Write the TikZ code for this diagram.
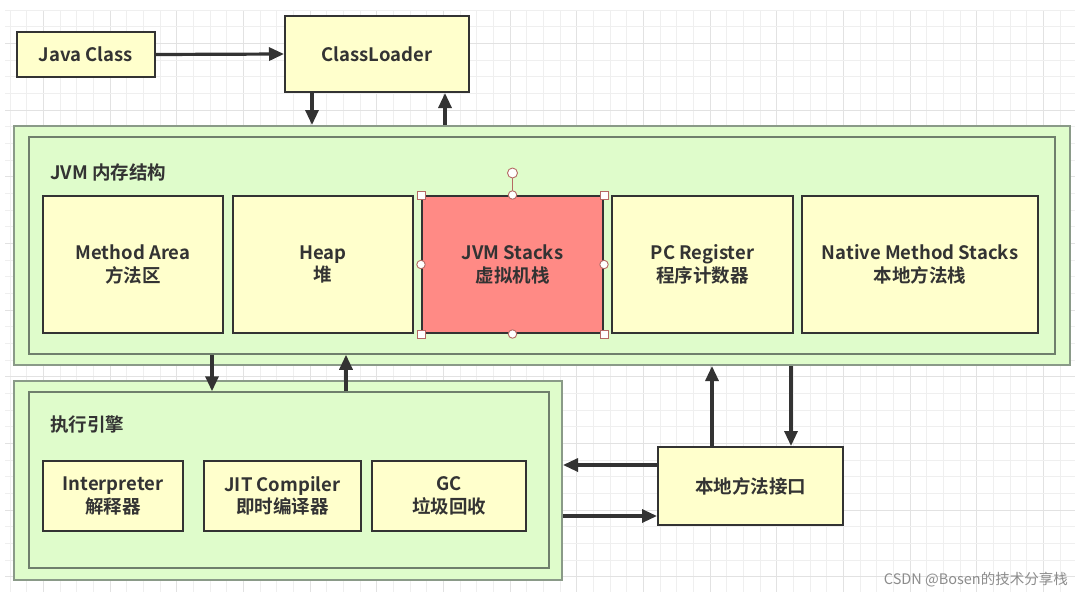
\documentclass[tikz,border=0pt]{standalone}
\usepackage{fontspec}
\setmainfont{Noto Sans CJK SC}[BoldFont={Noto Sans CJK SC Bold}]
\usetikzlibrary{arrows.meta}
\definecolor{boxyellow}{HTML}{FFFFCC}
\definecolor{boxline}{HTML}{333333}
\definecolor{greenfill}{HTML}{DFFCCB}
\definecolor{greenline}{HTML}{8A9A88}
\definecolor{greeninner}{HTML}{6F7F6C}
\definecolor{redfill}{HTML}{FF8A85}
\definecolor{handle}{HTML}{B56A64}
\definecolor{gridminor}{HTML}{EFEFEF}
\definecolor{gridmajor}{HTML}{E2E2E2}
\definecolor{txt}{HTML}{333333}
\tikzset{
  ybox/.style={draw=boxline, fill=boxyellow, line width=2pt, align=center, inner sep=0pt,
    text=txt, font=\bfseries\fontsize{18.5}{22.5}\selectfont},
  gbox/.style={draw=greenline, fill=greenfill, line width=2pt, inner sep=0pt},
  gin/.style={draw=greeninner, line width=1.5pt, inner sep=0pt},
  arr/.style={draw=boxline, line width=3.2pt, -{Triangle[length=15pt,width=13pt]}},
  lbl/.style={anchor=west, text=txt, inner sep=0pt, font=\bfseries\fontsize{18.5}{22}\selectfont},
  hsq/.style={draw=handle, fill=white, line width=0.9pt, minimum size=8pt, inner sep=0pt},
  hci/.style={draw=handle, fill=white, line width=0.9pt, circle, minimum size=8.5pt, inner sep=0pt},
}
\begin{document}
\begin{tikzpicture}[x=1pt,y=-1pt]
\useasboundingbox (0,0) rectangle (1080,595);
\fill[white] (0,0) rectangle (1080,595);
% grid
\foreach \i in {0,...,63} {
  \pgfmathtruncatemacro{\m}{mod(\i,4)}
  \ifnum\m=2 \def\gc{gridmajor}\else\def\gc{gridminor}\fi
  \draw[\gc, line width=0.8pt] ({10+\i*16.667},10) -- ({10+\i*16.667},592);
}
\foreach \j in {0,...,34} {
  \pgfmathtruncatemacro{\m}{mod(\j,4)}
  \ifnum\m=2 \def\gc{gridmajor}\else\def\gc{gridminor}\fi
  \draw[\gc, line width=0.8pt] (5,{10+\j*16.667}) -- (1075,{10+\j*16.667});
}
% top
\node[ybox, minimum width=138pt, minimum height=45pt] (jc) at (86,54.5) {Java Class};
\node[ybox, minimum width=184pt, minimum height=76pt] (cl) at (377,54) {ClassLoader};
% JVM memory
\node[gbox, minimum width=1056pt, minimum height=239pt] (jvmo) at (542,245.5) {};
\node[gin, minimum width=1026pt, minimum height=217pt] (jvmi) at (542,245.5) {};
\node[lbl] (jvml) at (50,172) {JVM 内存结构};
\node[ybox, minimum width=180pt, minimum height=137pt] (ma) at (133,264.5) {Method Area\\方法区};
\node[ybox, minimum width=180pt, minimum height=137pt] (hp) at (323,264.5) {Heap\\堆};
\node[ybox, fill=redfill, minimum width=181pt, minimum height=137pt] (js) at (512.5,264.5) {JVM Stacks\\虚拟机栈};
\node[ybox, minimum width=181pt, minimum height=137pt] (pc) at (702.5,264.5) {PC Register\\程序计数器};
\node[ybox, minimum width=236pt, minimum height=137pt] (nm) at (920,264.5) {Native Method Stacks\\本地方法栈};
% selection handles
\coordinate (rot) at (512.5,173);
\draw[handle, line width=0.9pt] (js.north) -- (rot);
\node[hci, minimum size=10pt] (hr) at (rot) {};
\node[hsq] (h1) at (js.north west) {};
\node[hsq] (h2) at (js.north east) {};
\node[hsq] (h3) at (js.south west) {};
\node[hsq] (h4) at (js.south east) {};
\node[hci] (h5) at (js.north) {};
\node[hci] (h6) at (js.south) {};
\node[hci] (h7) at (js.west) {};
\node[hci] (h8) at (js.east) {};
% execution engine
\node[gbox, minimum width=548pt, minimum height=199pt] (exo) at (288,480.5) {};
\node[gin, minimum width=520pt, minimum height=176pt] (exi) at (289,480) {};
\node[lbl] (exl) at (50,425) {执行引擎};
\node[ybox, minimum width=140pt, minimum height=70pt] (ip) at (113,496) {Interpreter\\解释器};
\node[ybox, minimum width=157pt, minimum height=70pt] (jit) at (282.5,496) {JIT Compiler\\即时编译器};
\node[ybox, minimum width=154pt, minimum height=70pt] (gc) at (449,496) {GC\\垃圾回收};
% native interface
\node[ybox, minimum width=185pt, minimum height=78pt] (ni) at (750.5,486) {本地方法接口};
% arrows
\draw[arr] (jc.east) -- (cl.west);
\draw[arr] (312,0 |- cl.south) -- (312,0 |- jvmo.north);
\draw[arr] (445,0 |- jvmo.north) -- (445,0 |- cl.south);
\draw[arr] (212,0 |- jvmi.south) -- (212,0 |- exi.north);
\draw[arr] (346,0 |- exi.north) -- (346,0 |- jvmi.south);
\draw[arr] (712,0 |- ni.north) -- (712,0 |- jvmo.south);
\draw[arr] (791,0 |- jvmo.south) -- (791,0 |- ni.north);
\draw[arr] (0,465 -| ni.west) -- (0,465 -| exo.east);
\draw[arr] (0,516 -| exo.east) -- (0,516 -| ni.west);
% watermark
\node[anchor=east, text=black!45, inner sep=0pt, font=\fontsize{14.5}{16}\selectfont] (wm) at (1068,580) {CSDN @Bosen的技术分享栈};
\end{tikzpicture}
\end{document}
